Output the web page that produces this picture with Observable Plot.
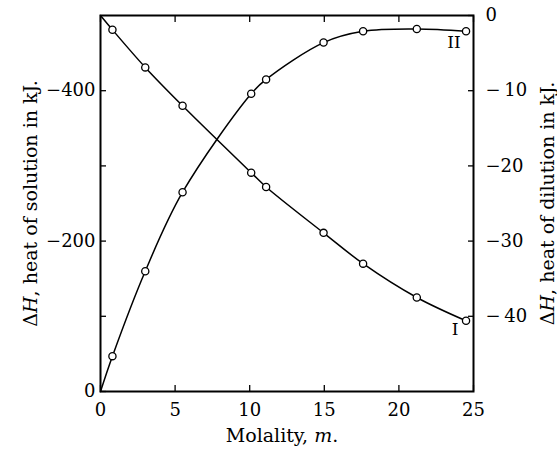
<!DOCTYPE html>
<html><head><meta charset="utf-8">
<script src="https://cdn.jsdelivr.net/npm/d3@7"></script>
<script src="https://cdn.jsdelivr.net/npm/@observablehq/plot@0.6"></script>
<style>body{margin:0;background:#fff} svg{display:block}</style>
</head><body><div id="chart"></div>
<script>
// Data
const molality = [0.8, 3.0, 5.5, 10.1, 11.1, 14.95, 17.6, 21.2, 24.5];
const dilutionHeat = [-1.9, -6.9, -12.0, -20.9, -22.8, -28.9, -33.0, -37.5, -40.6]; // curve I (right axis, kJ)
const solutionHeat = [-47, -160, -265, -396, -415, -464, -479, -482, -479];       // curve II (left axis, kJ)
const curveNames = ["I", "II"];

const xTicks = [0, 5, 10, 15, 20, 25];
const leftTicks = [0, -100, -200, -300, -400];
const leftLabels = ["0", "", "\u2212200", "", "\u2212400"];
const rightTicks = [0, -10, -20, -30, -40];
const rightLabels = ["0", "\u2212\u200910", "\u221220", "\u221230", "\u2212\u200940"];
const xDomain = [0, 25];
const leftDomain = [0, -500];
const rightDomain = [-50, 0];

const xTitle = "Molality, m.";
const leftTitle = "\u0394H, heat of solution in kJ.";
const rightTitle = "\u0394H, heat of dilution in kJ.";

// left-axis value -> shared (right-axis) y scale
const toRight = L => rightDomain[0] + (L - leftDomain[0]) * (rightDomain[1] - rightDomain[0]) / (leftDomain[1] - leftDomain[0]);

const ptsI = molality.map((m, i) => ({m, v: dilutionHeat[i]}));
const ptsII = molality.map((m, i) => ({m, v: toRight(solutionHeat[i])}));
const lineI = [{m: 0, v: 0}, ...ptsI];
const lineII = [{m: 0, v: toRight(0)}, ...ptsII];
const lastI = ptsI[ptsI.length - 1], lastII = ptsII[ptsII.length - 1];

const font = "DejaVu Serif";
const lookup = (ticks, labels, conv) => d => {
  const i = ticks.findIndex(t => Math.abs(conv(t) - d) < 1e-6);
  return i < 0 ? "" : labels[i];
};
const blank = () => "";
const tk = 6;

const chart = Plot.plot({
  width: 557, height: 450,
  marginLeft: 100, marginRight: 84, marginTop: 15, marginBottom: 59,
  style: {fontFamily: font, background: "#fff", color: "#000"},
  x: {domain: xDomain, axis: null},
  y: {domain: rightDomain, axis: null},
  marks: [
    Plot.line(lineI, {x: "m", y: "v", curve: "catmull-rom", stroke: "#000", strokeWidth: 1.5}),
    Plot.line(lineII, {x: "m", y: "v", curve: "catmull-rom", stroke: "#000", strokeWidth: 1.5}),
    Plot.dot([...ptsI, ...ptsII], {x: "m", y: "v", r: 3.6, fill: "#fff", stroke: "#000", strokeWidth: 1.3}),
    Plot.text([lastI], {x: "m", y: "v", text: () => curveNames[0], dx: -11, dy: 9, fontSize: 17, fontFamily: font}),
    Plot.text([lastII], {x: "m", y: "v", text: () => curveNames[1], dx: -12, dy: 11, fontSize: 17, fontFamily: font}),
    // inward tick marks (shifted by their own length)
    Plot.axisX({anchor: "bottom", ticks: xTicks, tickFormat: blank, tickSize: tk, dy: -tk, label: null, strokeWidth: 1.3}),
    Plot.axisX({anchor: "top", ticks: xTicks, tickFormat: blank, tickSize: tk, dy: tk, label: null, strokeWidth: 1.3}),
    Plot.axisY({anchor: "left", ticks: leftTicks.map(toRight), tickFormat: blank, tickSize: tk, dx: tk, label: null, strokeWidth: 1.3}),
    Plot.axisY({anchor: "right", ticks: rightTicks, tickFormat: blank, tickSize: tk, dx: -tk, label: null, strokeWidth: 1.3}),
    // tick labels
    Plot.axisX({anchor: "bottom", ticks: xTicks, tickFormat: d => String(d), tickSize: 0, tickPadding: 12, fontSize: 18, label: null}),
    Plot.axisY({anchor: "left", ticks: leftTicks.map(toRight), tickFormat: lookup(leftTicks, leftLabels, toRight), tickSize: 0, tickPadding: 5, fontSize: 18, label: null}),
    Plot.axisY({anchor: "right", ticks: rightTicks, tickFormat: lookup(rightTicks, rightLabels, d => d), tickSize: 0, tickPadding: 12, fontSize: 18, label: null}),
    Plot.frame({stroke: "#000", strokeWidth: 2}),
    Plot.text([xTitle], {frameAnchor: "bottom", dy: 50, dx: -5, text: d => d, fontSize: 19, fontFamily: font}),
    Plot.text([leftTitle], {frameAnchor: "left", textAnchor: "middle", rotate: -90, dx: -70, text: d => d, fontSize: 19, fontFamily: font}),
    Plot.text([rightTitle], {frameAnchor: "right", textAnchor: "middle", rotate: -90, dx: 74, text: d => d, fontSize: 19, fontFamily: font})
  ]
});

// italicize the math symbols in titles
d3.select(chart).selectAll("text").each(function() {
  const t = this.textContent;
  const el = d3.select(this);
  if (t === leftTitle || t === rightTitle) {
    el.text(null);
    el.append("tspan").text("\u0394");
    el.append("tspan").attr("font-style", "italic").text("H");
    el.append("tspan").text(t.slice(2));
  } else if (t === xTitle) {
    el.text(null);
    el.append("tspan").text("Molality, ");
    el.append("tspan").attr("font-style", "italic").text("m");
    el.append("tspan").text(".");
  }
});
document.getElementById("chart").appendChild(chart);
</script>
</body></html>
